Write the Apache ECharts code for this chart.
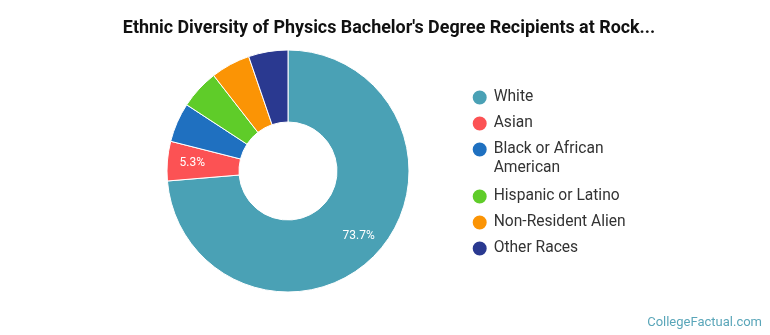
<!DOCTYPE html>
<html>
<head>
<meta charset="utf-8">
<script src="https://cdn.jsdelivr.net/npm/echarts@6/dist/echarts.min.js"></script>
<style>
html,body{margin:0;padding:0;background:#fff;}
#chart{width:770px;height:335px;}
</style>
</head>
<body>
<div id="chart"></div>
<script>
var titleText = "Ethnic Diversity of Physics Bachelor's Degree Recipients at Rock...";
var categories = ["White", "Asian", "Black or African American", "Hispanic or Latino", "Non-Resident Alien", "Other Races"];
var values = [14, 1, 1, 1, 1, 1];
var colors = ["#4aa1b5", "#fc5254", "#1f70c0", "#5fcc29", "#fb9405", "#2a3990"];
var showLabel = [true, true, false, false, false, false];
var legendFirstLine = {"Black or African American": "Black or African"};
var legendSecondLine = "American";

var total = values.reduce(function(a,b){return a+b;},0);
var chart = echarts.init(document.getElementById('chart'), null, {renderer:'canvas'});
var sliceData = categories.map(function(c,i){
  return { name: c, value: values[i], itemStyle: {color: colors[i]} };
});
var labelData = categories.map(function(c,i){
  return { name: c, value: values[i], label: {show: showLabel[i]} };
});
var legendCommon = {
  orient: 'vertical', left: 465.7,
  itemWidth: 18, itemHeight: 16, itemGap: 5, icon: 'circle',
  formatter: function(n){ return legendFirstLine[n] || n; },
  textStyle: {fontFamily: 'Roboto', fontSize: 15.6, color: '#333', lineHeight: 21},
  selectedMode: false
};
chart.setOption({
  animation: false,
  title: {
    text: titleText, left: 384, top: 15, textAlign: 'center',
    textStyle: {fontFamily: 'Roboto', fontWeight: 'bold', fontSize: 17.9, color: '#111'}
  },
  legend: [
    Object.assign({}, legendCommon, {top: 82, data: categories.slice(0, 3)}),
    Object.assign({}, legendCommon, {top: 181, data: categories.slice(3)})
  ],
  graphic: [{
    type: 'text', x: 493.7, y: 168,
    style: {text: legendSecondLine, fill: '#333', font: '15.6px Roboto', verticalAlign: 'middle'}
  }, {
    type: 'text', right: 8, top: 316,
    style: {text: 'CollegeFactual.com', fill: '#5aa6b9', font: '13px Roboto'}
  }],
  series: [{
    type: 'pie',
    center: [288, 171],
    radius: [49, 121],
    startAngle: 90,
    clockwise: true,
    itemStyle: {borderColor: '#fff', borderWidth: 1},
    label: {show: false},
    labelLine: {show: false},
    emphasis: {disabled: true},
    data: sliceData
  }, {
    type: 'pie',
    center: [288, 171],
    radius: [65, 121],
    startAngle: 90,
    clockwise: true,
    silent: true,
    z: 3,
    itemStyle: {color: 'rgba(0,0,0,0)', borderWidth: 0},
    avoidLabelOverlap: false,
    label: {
      position: 'inside', color: '#fff', fontFamily: 'Roboto', fontSize: 12,
      formatter: function(p){ return (p.value/total*100).toFixed(1) + '%'; }
    },
    labelLine: {show: false},
    emphasis: {disabled: true},
    data: labelData
  }]
});
</script>
</body>
</html>
